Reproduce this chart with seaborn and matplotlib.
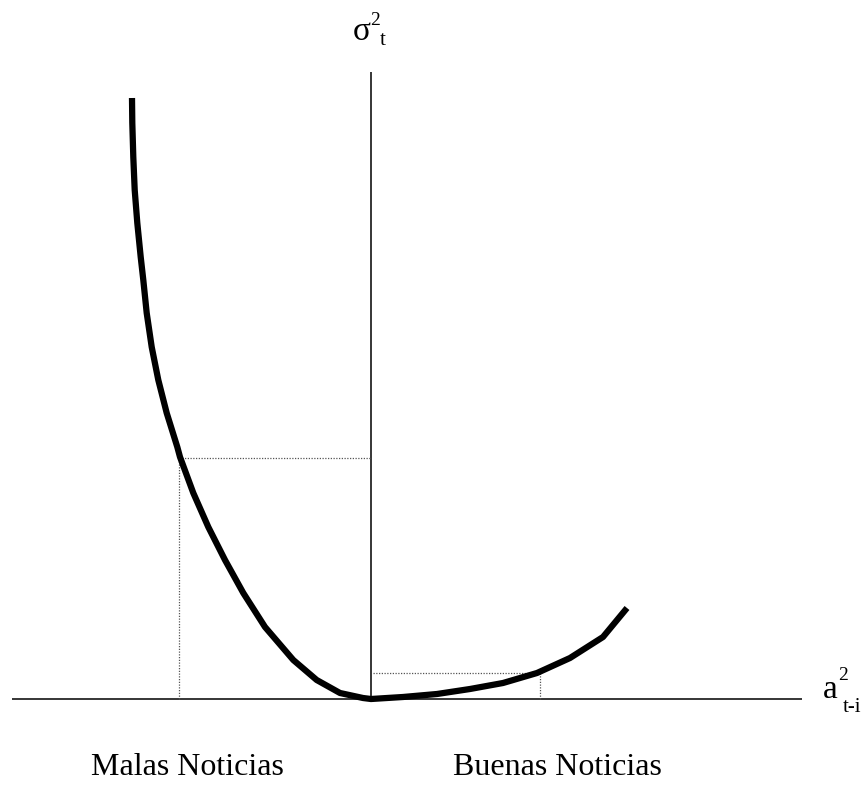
import numpy as np
import pandas as pd
import matplotlib
matplotlib.use("Agg")
import matplotlib.pyplot as plt
import seaborn as sns

# Curva de impacto de noticias (asimetrica): valores leidos del grafico
# eje x: a_{t-i} (negativo = malas noticias), eje y: sigma^2_t
malas_x = [-239, -238.7, -237.7, -236.3, -233.7, -230.3, -227.7, -224.3, -219.3,
           -212.7, -204.3, -193.7, -191, -177.7, -162.7, -146, -127.7, -106,
           -77.7, -54.3, -31, -8, 0]
malas_y = [601, 576, 542, 509, 476, 442, 419, 386, 352,
           319, 286, 252, 242, 206, 172, 139, 106, 72,
           39, 19, 6, 1, 0]
buenas_x = [0, 32, 66, 99, 132, 166, 199, 232, 256]
buenas_y = [0, 2, 5, 10, 16, 26, 41, 62, 91]

# lineas de referencia punteadas (x, y)
ref_malas = (-192, 241)
ref_buenas = (169, 26)

etiquetas = ["Malas Noticias", "Buenas Noticias"]

sns.set_theme(style="white")
plt.rcParams["font.family"] = ["Liberation Serif", "DejaVu Serif"]
plt.rcParams["text.color"] = "black"

fig = plt.figure(figsize=(8.68, 7.88), dpi=100)
ax = fig.add_axes([0, 0, 1, 1])
ax.set_xlim(-371, 497)
ax.set_ylim(-89, 699)

# ejes
ax.plot([-359, 431], [0, 0], color="black", lw=1.1, solid_capstyle="butt")
ax.plot([0, 0], [0, 627], color="black", lw=1.1, solid_capstyle="butt")

# referencias punteadas
punteado = dict(color="#555555", lw=0.9, ls=(0, (1, 1.2)))
ax.plot([ref_malas[0], 0], [ref_malas[1], ref_malas[1]], **punteado)
ax.plot([ref_malas[0], ref_malas[0]], [0, ref_malas[1]], **punteado)
ax.plot([2, ref_buenas[0]], [ref_buenas[1], ref_buenas[1]], **punteado)
ax.plot([ref_buenas[0], ref_buenas[0]], [0, ref_buenas[1]], **punteado)

df = pd.DataFrame({
    "x": malas_x + buenas_x[1:],
    "y": malas_y + buenas_y[1:],
})
sns.lineplot(data=df, x="x", y="y", sort=False, color="black", lw=4.5, ax=ax,
             solid_capstyle="butt", solid_joinstyle="round")
ax.axis("off")

# etiquetas de los ejes
ax.text(-9, 659, "σ", fontsize=24, ha="center", va="baseline")
ax.text(-1, 674, "2", fontsize=14, ha="left", va="baseline")
ax.text(9, 654, "t", fontsize=15, ha="left", va="baseline")

ax.text(452, 1, "a", fontsize=24, ha="left", va="baseline")
ax.text(467, 19, "2", fontsize=14, ha="left", va="baseline")
ax.text(472, -13, "t-i", fontsize=15, ha="left", va="baseline")

ax.text(-184, -76, etiquetas[0], fontsize=23, ha="center", va="baseline")
ax.text(186, -76, etiquetas[1], fontsize=23, ha="center", va="baseline")

fig.savefig("out.png", dpi=100)
